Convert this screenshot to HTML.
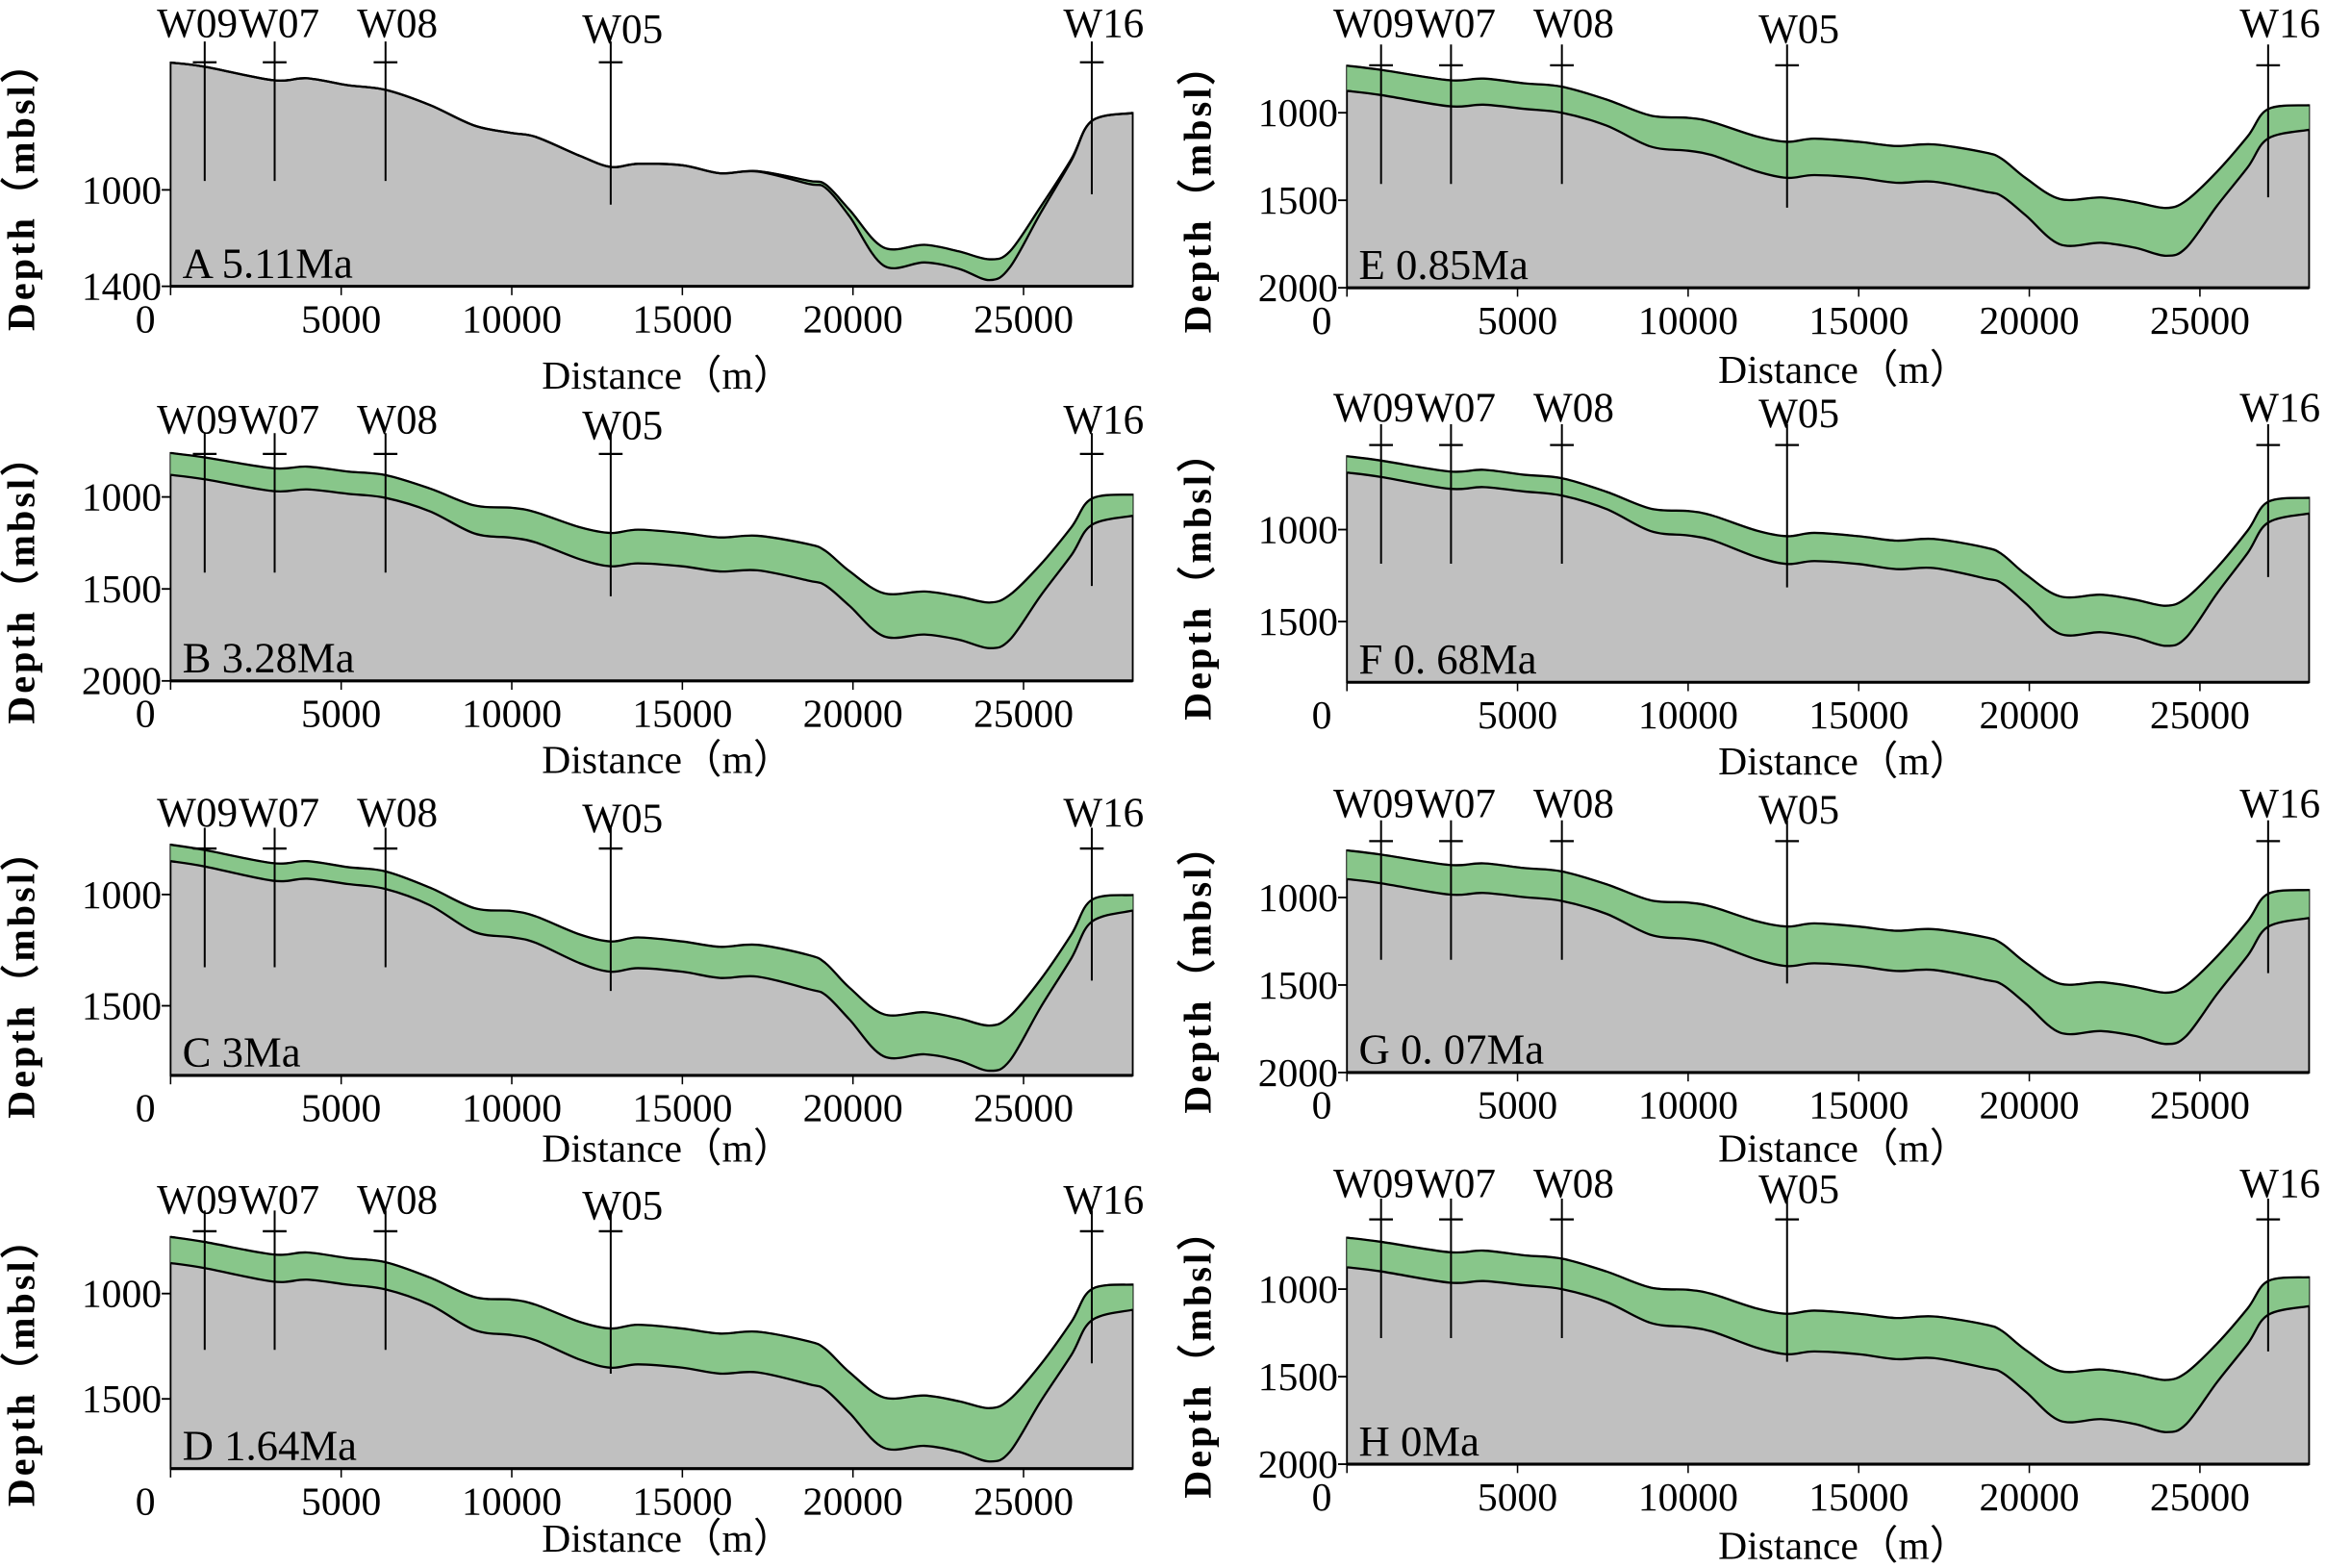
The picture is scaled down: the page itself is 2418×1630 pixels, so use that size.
<!DOCTYPE html>
<html><head><meta charset="utf-8">
<style>
html,body{margin:0;padding:0;background:#fff;}
svg{display:block;}
text{font-family:"Liberation Serif",serif;fill:#000;}
</style></head>
<body>
<svg id="fig" width="2418" height="1630" viewBox="0 0 1568 1057" preserveAspectRatio="none" xmlns="http://www.w3.org/2000/svg"></svg>
<script>
const distances = [0,1000,3000,4000,5200,6300,7600,8900,10000,10700,12000,12900,13700,15000,16100,17200,18700,19200,19900,20900,22100,23100,24000,24600,25500,26400,27000,28200];
const xTicks = [0,5000,10000,15000,20000,25000];
const wellNames = ["W09","W07","W08","W05","W16"];
const wellDist = [1000,3050,6300,12900,27000];

const aTop = [472,489,545,537,566,585,648,733,764,780,859,905,892,898,931,922,962,978,1083,1239,1228,1255,1288,1255,1070,872,714,681];
const aBot = [472,489,545,537,566,585,648,733,764,780,859,905,892,898,931,924,975,992,1110,1314,1301,1327,1374,1321,1096,879,714,681];
const bTop = [761,785,844,835,862,881,954,1046,1059,1083,1165,1196,1178,1196,1220,1211,1257,1294,1404,1523,1514,1541,1574,1532,1367,1165,1009,987];
const bBot = [880,904,968,959,983,1005,1078,1198,1222,1247,1339,1377,1361,1377,1405,1399,1455,1482,1592,1757,1748,1776,1822,1776,1537,1317,1152,1102];
const cTop = [776,800,859,850,877,896,969,1061,1074,1098,1180,1211,1193,1211,1235,1226,1272,1309,1419,1538,1529,1556,1589,1547,1382,1180,1024,1002];
const cBot = [850,874,938,929,953,975,1048,1168,1192,1217,1309,1347,1331,1347,1375,1369,1425,1452,1562,1727,1718,1746,1792,1746,1507,1287,1122,1072];
const dTop = [731,755,814,805,832,851,924,1016,1029,1053,1135,1166,1148,1166,1190,1181,1227,1264,1374,1493,1484,1511,1544,1502,1337,1135,979,957];
const dBot = [855,879,943,934,958,980,1053,1173,1197,1222,1314,1352,1336,1352,1380,1374,1430,1457,1567,1732,1723,1751,1797,1751,1512,1292,1127,1077];
const eTop = [731,755,814,805,832,851,924,1016,1029,1053,1135,1166,1148,1166,1190,1181,1227,1264,1374,1493,1484,1511,1544,1502,1337,1135,979,957];
const eBot = [875,899,963,954,978,1000,1073,1193,1217,1242,1334,1372,1356,1372,1400,1394,1450,1477,1587,1752,1743,1771,1817,1771,1532,1312,1147,1097];
const fTop = [601,625,684,675,702,721,794,886,899,923,1005,1036,1018,1036,1060,1051,1097,1134,1244,1363,1354,1381,1414,1372,1207,1005,849,827];
const fBot = [690,714,778,769,793,815,888,1008,1032,1057,1149,1187,1171,1187,1215,1209,1265,1292,1402,1567,1558,1586,1632,1586,1347,1127,962,912];
const gTop = [731,755,814,805,832,851,924,1016,1029,1053,1135,1166,1148,1166,1190,1181,1227,1264,1374,1493,1484,1511,1544,1502,1337,1135,979,957];
const gBot = [895,919,983,974,998,1020,1093,1213,1237,1262,1354,1392,1376,1392,1420,1414,1470,1497,1607,1772,1763,1791,1837,1791,1552,1332,1167,1117];
const hTop = [706,730,789,780,807,826,899,991,1004,1028,1110,1141,1123,1141,1165,1156,1202,1239,1349,1468,1459,1486,1519,1477,1312,1110,954,932];
const hBot = [875,899,963,954,978,1000,1073,1193,1217,1242,1334,1372,1356,1372,1400,1394,1450,1477,1587,1752,1743,1771,1817,1771,1532,1312,1147,1097];

const panelLabels = ["A 5.11Ma","B 3.28Ma","C 3Ma","D 1.64Ma","E 0.85Ma","F 0. 68Ma","G 0. 07Ma","H 0Ma"];
const yTicksA = [1000,1400];
const yTicks3 = [1000,1500,2000];
const yTicks2 = [1000,1500];

const panels = [
 {id:"a",top:aTop,bot:aBot,x0:115,y1000:128,k:0.1625,bottomDepth:1400,ticks:yTicksA,cross:42,lab:25,tOff:69},
 {id:"b",top:bTop,bot:bBot,x0:115,y1000:335,k:0.124,bottomDepth:2000,ticks:yTicks3,cross:306,lab:292,tOff:62},
 {id:"c",top:cTop,bot:cBot,x0:115,y1000:603,k:0.15,bottomDepth:1813,ticks:yTicks2,cross:572,lab:557,tOff:58},
 {id:"d",top:dTop,bot:dBot,x0:115,y1000:872,k:0.142,bottomDepth:1831,ticks:yTicks2,cross:830,lab:818,tOff:56},
 {id:"e",top:eTop,bot:eBot,x0:908,y1000:76,k:0.118,bottomDepth:2000,ticks:yTicks3,cross:44,lab:25,tOff:64},
 {id:"f",top:fTop,bot:fBot,x0:908,y1000:357,k:0.124,bottomDepth:1830,ticks:yTicks2,cross:300,lab:284,tOff:62},
 {id:"g",top:gTop,bot:gBot,x0:908,y1000:605,k:0.118,bottomDepth:2000,ticks:yTicks3,cross:567,lab:551,tOff:60},
 {id:"h",top:hTop,bot:hBot,x0:908,y1000:869,k:0.118,bottomDepth:2000,ticks:yTicks3,cross:822,lab:807,tOff:64}
];
const wellBottomOffset = [80,80,80,96,89];
const PXM = 0.023;
const NS = "http://www.w3.org/2000/svg";
const svg = document.getElementById("fig");

function mk(tag, attrs, parent){
  const e = document.createElementNS(NS, tag);
  for (const k in attrs) e.setAttribute(k, attrs[k]);
  (parent||svg).appendChild(e);
  return e;
}
function crPath(pts){
  let d = "";
  for (let i=0;i<pts.length-1;i++){
    const p0=pts[Math.max(0,i-1)],p1=pts[i],p2=pts[i+1],p3=pts[Math.min(pts.length-1,i+2)];
    const c1x=p1[0]+(p2[0]-p0[0])/6,c1y=p1[1]+(p2[1]-p0[1])/6;
    const c2x=p2[0]-(p3[0]-p1[0])/6,c2y=p2[1]-(p3[1]-p1[1])/6;
    d += " C"+c1x.toFixed(2)+","+c1y.toFixed(2)+" "+c2x.toFixed(2)+","+c2y.toFixed(2)+" "+p2[0].toFixed(2)+","+p2[1].toFixed(2);
  }
  return d;
}

panels.forEach((p, pi) => {
  const g = mk("g", {});
  
  
  const X = d => p.x0 + d*PXM;
  const Y = dep => p.y1000 + (dep-1000)*p.k;
  const yBottom = Y(p.bottomDepth);
  const topPts = distances.map((d,i)=>[X(d),Y(p.top[i])]);
  const botPts = distances.map((d,i)=>[X(d),Y(p.bot[i])]);
  const xEnd = X(distances[distances.length-1]);

  const gray = mk("path", {d:"M"+topPts[0][0]+","+topPts[0][1]+crPath(topPts)+" L"+xEnd+","+yBottom+" L"+p.x0+","+yBottom+" Z", fill:"#c0c0c0", stroke:"#000", "stroke-width":"1.2"}, g);
  
  

  const botRev = botPts.slice().reverse();
  const green = mk("path", {d:"M"+topPts[0][0]+","+topPts[0][1]+crPath(topPts)+" L"+botRev[0][0]+","+botRev[0][1]+crPath(botRev)+" Z", fill:"#88c68a", stroke:"none"}, g);
  
  

  const lt = mk("path", {d:"M"+topPts[0][0]+","+topPts[0][1]+crPath(topPts), fill:"none", stroke:"#000", "stroke-width":"1.5"}, g);
  
  
  const lb = mk("path", {d:"M"+botPts[0][0]+","+botPts[0][1]+crPath(botPts), fill:"none", stroke:"#000", "stroke-width":"1.5"}, g);
  
  

  const ax = mk("line", {x1:p.x0, x2:xEnd, y1:yBottom, y2:yBottom, stroke:"#000", "stroke-width":"2"}, g);
  
  
  xTicks.forEach(t=>{
    const tk = mk("line",{x1:X(t),x2:X(t),y1:yBottom,y2:yBottom+6,stroke:"#000","stroke-width":"1"},g);
    
    
    const tl = mk("text",{x: t===0 ? X(t)-17 : X(t), y:yBottom+31, "font-size":"27","text-anchor":"middle"},g);
    tl.textContent = String(t);
    
    
  });
  const xt = mk("text",{x:p.x0+335,y:yBottom+p.tOff,"font-size":"27","text-anchor":"middle"},g);
  xt.textContent = "Distance（m）";
  
  

  p.ticks.forEach(t=>{
    const tk = mk("line",{x1:p.x0-6,x2:p.x0,y1:Y(t),y2:Y(t),stroke:"#000","stroke-width":"1.2"},g);
    
    
    const tl = mk("text",{x:p.x0-6,y:Y(t)+9,"font-size":"27","text-anchor":"end"},g);
    tl.textContent = String(t);
    
    
  });
  const yTop = p.cross;
  const yc = (yTop + yBottom)/2 + 8;
  const yx = p.x0-92;
  const yt = mk("text",{x:yx,y:yc,"font-size":"26","font-weight":"bold","text-anchor":"middle",transform:"rotate(-90 "+yx+" "+yc+")","letter-spacing":"2"},g);
  yt.textContent = "Depth（mbsl）";
  
  

  wellDist.forEach((d,wi)=>{
    const wx = X(d);
    const wl = mk("line",{x1:wx,x2:wx,y1:p.cross-14,y2:p.cross+wellBottomOffset[wi],stroke:"#000","stroke-width":"1.3"},g);
    
    
    const wc = mk("line",{x1:wx-8,x2:wx+8,y1:p.cross,y2:p.cross,stroke:"#000","stroke-width":"1.5"},g);
    
    
    const lx = wi===0 ? wx-5 : (wi===1 ? wx+3 : wx+8);
    const wt = mk("text",{x:lx,y:p.lab+(wi===3?4:0),"font-size":"28","text-anchor":"middle"},g);
    wt.textContent = wellNames[wi];
    
    
  });

  const pl = mk("text",{x:p.x0+8,y:yBottom-6,"font-size":"29"},g);
  pl.textContent = panelLabels[pi];
  
  
});
</script>
</body></html>
